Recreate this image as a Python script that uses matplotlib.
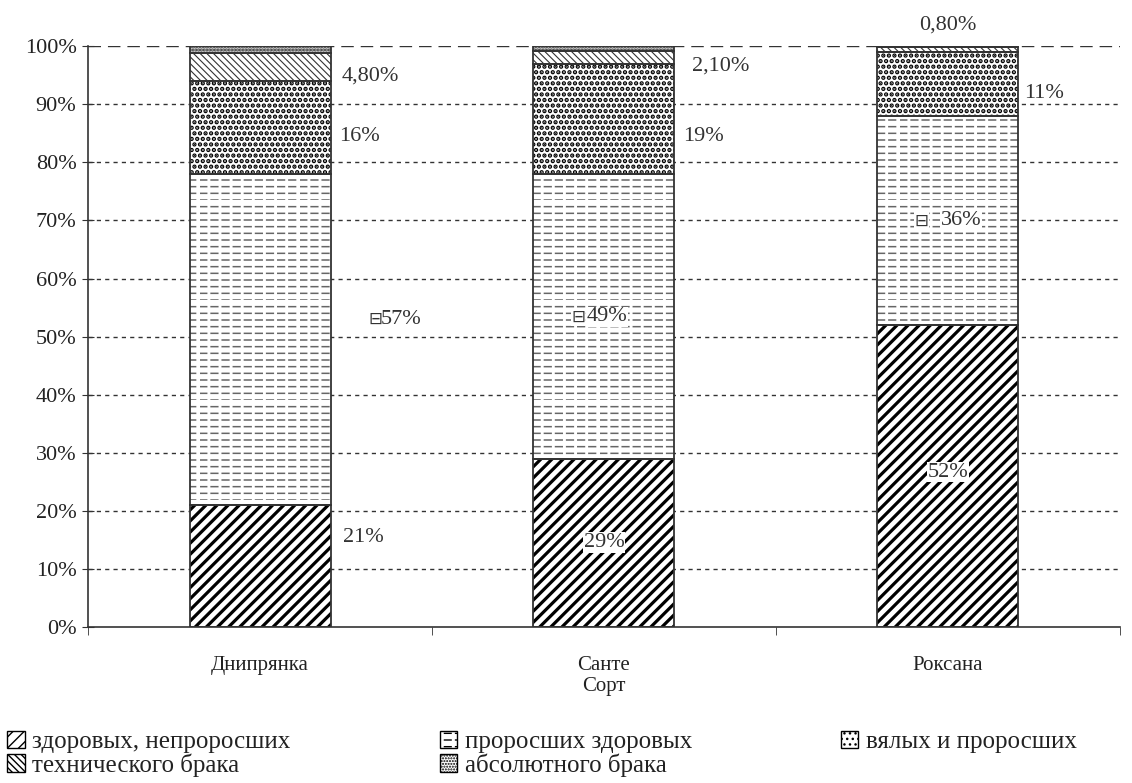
import numpy as np
import matplotlib.pyplot as plt
import matplotlib.patches as mpatches
from matplotlib import hatch as mhatch
from matplotlib.path import Path
from matplotlib.ticker import FuncFormatter, FixedLocator

plt.rcParams['font.family'] = ['Liberation Serif', 'DejaVu Serif']


# dashed horizontal hatch in place of the solid '-' one
class DashedHorizontal(mhatch.HatchPatternBase):
    def __init__(self, hatch, density):
        self.num_rows = int((hatch.count('-') + hatch.count('+')) * density * 1.25)
        self.num_dash = 9
        self.num_vertices = self.num_rows * self.num_dash * 2

    def set_vertices_and_codes(self, vertices, codes):
        ys = np.linspace(0.0, 1.0, self.num_rows, endpoint=False)
        xs = np.linspace(0.0, 1.0, self.num_dash, endpoint=False)
        w = 0.6 / self.num_dash
        i = 0
        for y in ys:
            for x0 in xs:
                vertices[i] = [x0, y]
                vertices[i + 1] = [x0 + w, y]
                i += 2
        codes[0::2] = Path.MOVETO
        codes[1::2] = Path.LINETO


mhatch._hatch_types = [DashedHorizontal if t is mhatch.HorizontalHatch else t
                       for t in mhatch._hatch_types]

sorts = ['Днипрянка', 'Санте', 'Роксана']
series = ['здоровых, непроросших', 'проросших здоровых', 'вялых и проросших',
          'технического брака', 'абсолютного брака']
healthy = [21, 29, 52]
sprouted = [57, 49, 36]
wilted = [16, 19, 11]
technical = [4.8, 2.1, 0.8]
absolute = [1.2, 0.9, 0.2]
values = [healthy, sprouted, wilted, technical, absolute]

hatches = ['///', '--', '...', '\\\\\\\\\\', '......']
hatch_cols = ['black', '#666666', 'black', '#333333', 'black']
lws = [2.3, 1.1, 2.2, 0.8, 1.4]

fig = plt.figure(figsize=(11.32, 7.83), dpi=100)
ax = fig.add_axes([0.078, 0.199, 0.911, 0.742])

x = list(range(len(sorts)))
bottom = [0, 0, 0]
for vals, h, hc, lw in zip(values, hatches, hatch_cols, lws):
    plt.rcParams['hatch.linewidth'] = lw
    ax.bar(x, vals, width=0.41, bottom=bottom, color='white',
           edgecolor=hc, hatch=h, linewidth=0, zorder=2)
    ax.bar(x, vals, width=0.41, bottom=bottom, fill=False,
           edgecolor='#333333', linewidth=1.3, zorder=3)
    bottom = [a + v for a, v in zip(bottom, vals)]

ax.set_xlim(-0.5, 2.5)
ax.set_ylim(0, 100)
ax.yaxis.set_major_locator(FixedLocator(range(0, 101, 10)))
ax.yaxis.set_major_formatter(FuncFormatter(lambda v, p: f'{int(v)}%'))
for yv in range(10, 100, 10):
    ax.axhline(yv, color='#333333', linestyle=(0, (3, 3)), linewidth=1, zorder=1)
ax.axhline(100, color='#333333', linestyle=(0, (9, 5)), linewidth=1, zorder=1)

ax.set_xticks(x)
ax.set_xticklabels(sorts, fontsize=15, color='#222222')
ax.tick_params(axis='x', length=0, pad=21)
ax.set_xticks([-0.5, 0.5, 1.5, 2.5], minor=True)
ax.tick_params(axis='x', which='minor', length=6, color='#333333')
ax.tick_params(axis='y', labelsize=16, length=9, direction='inout',
               color='#333333', labelcolor='#222222', pad=4)
ax.set_xlabel('Сорт', fontsize=15, labelpad=1, color='#222222')
for s in ['top', 'right']:
    ax.spines[s].set_visible(False)
for s in ['left', 'bottom']:
    ax.spines[s].set_color('#333333')
    ax.spines[s].set_linewidth(1.2)
    ax.spines[s].set_zorder(4)

# data labels
lab = dict(fontsize=16, color='#333333', ha='center', va='center', zorder=5)
wb = dict(fc='white', ec='none', pad=0.5)
ax.text(0.30, 15.5, '21%', **lab)
ax.text(0.41, 53, '57%', **lab)
ax.text(0.29, 84.5, '16%', **lab)
ax.text(0.32, 94.8, '4,80%', **lab)
ax.text(1.0, 14.6, '29%', bbox=wb, **lab)
ax.text(1.01, 53.4, '49%', bbox=wb, **lab)
ax.text(1.29, 84.5, '19%', **lab)
ax.text(1.34, 96.5, '2,10%', **lab)
ax.text(2.0, 26.7, '52%', bbox=wb, **lab)
ax.text(2.04, 70, '36%', bbox=wb, **lab)
ax.text(2.28, 91.9, '11%', **lab)
ax.text(2.0, 103.6, '0,80%', clip_on=False, **lab)
# small legend-key markers beside the sprouted labels
for mx, my in [(0.334, 53), (0.925, 53.4), (1.924, 70)]:
    ax.text(mx, my, '⊟', fontsize=12, color='#333333', ha='center', va='center',
            family=['DejaVu Sans'], zorder=6,
            bbox=dict(fc='white', ec='none', pad=0.1))

# legend, three columns placed like the reference
plt.rcParams['hatch.linewidth'] = 1.0
handles = [mpatches.Patch(facecolor='white', edgecolor='black', hatch=h, label=n)
           for n, h in zip(series, hatches)]
cols = [([0, 3], 0.0), ([1, 4], 0.382), ([2], 0.736)]
for idx, x0 in cols:
    fig.legend([handles[i] for i in idx], [series[i] for i in idx],
               loc='upper left', bbox_to_anchor=(x0, 0.076), frameon=False,
               fontsize=18, handlelength=0.7, handleheight=0.7,
               handletextpad=0.3, labelspacing=0.0, borderaxespad=0.0,
               borderpad=0.3, labelcolor='#222222')

fig.savefig('out.png', dpi=100)
